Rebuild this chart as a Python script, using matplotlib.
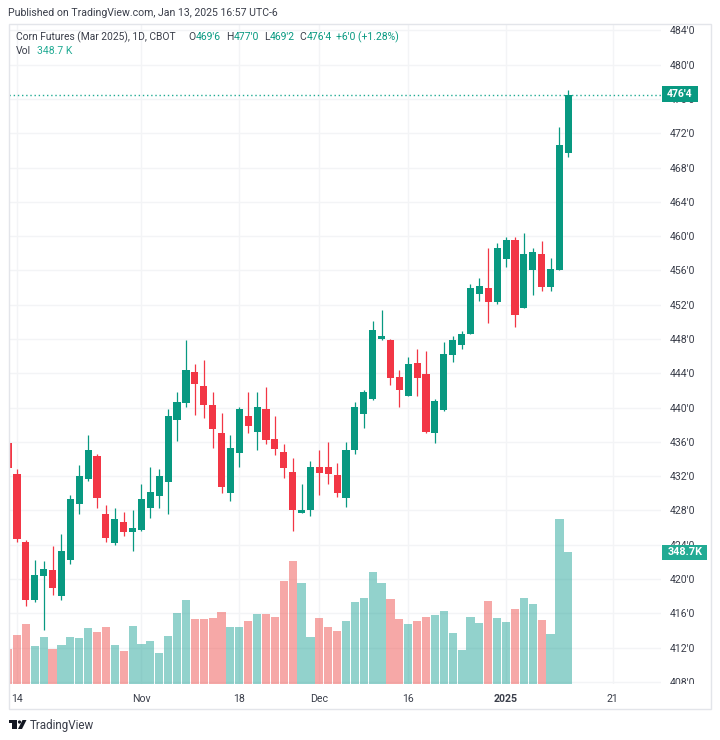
"""Corn futures daily candles with volume, TradingView style."""

import matplotlib
matplotlib.use("Agg")
import matplotlib.pyplot as plt
from matplotlib.patches import Circle, Polygon, Rectangle

W, H = 720, 740
GREEN = "#089981"
RED = "#F23645"
TEAL = "#22AB94"
VOL_GREEN = "#26A69A"
VOL_RED = "#EF5350"
TEXT = "#3A3E4A"
GRID = "#F3F4F6"
FRAME = "#E3E5EA"

plt.rcParams["font.family"] = ["Roboto", "DejaVu Sans"]

# first bar sits at index -1, index 0 is Oct 14
opens = [
    435.9, 432.3, 424.3, 417.5, 420.3, 421.1, 418.0, 422.2, 428.7, 431.7, 434.3, 427.6, 424.2, 426.6, 425.5, 425.75,
    428.25, 429.7, 431.27, 438.55, 440.5, 444.1, 442.55, 440.3, 437.0, 430.0, 434.75, 439.06, 437.2, 439.8, 436.3, 434.85,
    432.5, 427.65, 428.0, 433.1, 433.1, 432.1, 429.5, 435.05, 439.25, 441.0, 447.99, 447.9, 443.6, 441.3, 445.15, 443.9,
    437.0, 439.7, 446.1, 447.3, 448.6, 453.3, 453.9, 452.3, 457.3, 459.6, 451.57, 456.1, 457.9, 454.06, 456.08, 469.75,
]
highs = [
    435.9, 432.8, 424.6, 422.25, 422.1, 423.8, 425.3, 429.8, 433.3, 436.85, 434.6, 428.6, 428.3, 427.8, 428.0, 431.1,
    433.1, 432.8, 439.8, 441.8, 447.9, 445.1, 445.6, 441.8, 439.4, 436.8, 440.1, 441.8, 441.8, 442.4, 439.06, 435.8,
    434.1, 431.1, 433.8, 435.1, 436.0, 433.5, 436.0, 440.6, 442.05, 450.1, 451.4, 448.0, 444.4, 445.85, 446.85, 446.6,
    441.0, 447.6, 448.4, 448.9, 454.4, 455.15, 458.65, 459.2, 459.9, 459.9, 460.4, 458.65, 459.4, 457.4, 472.7, 477.0,
]
lows = [
    433.0, 424.3, 416.8, 417.3, 414.0, 418.1, 417.6, 421.8, 427.6, 431.4, 428.3, 424.3, 424.0, 425.0, 423.3, 425.6,
    427.1, 428.3, 427.6, 436.1, 440.1, 439.1, 438.8, 435.3, 430.0, 429.05, 433.1, 437.0, 435.1, 435.8, 434.5, 431.8,
    425.55, 427.65, 427.3, 429.75, 431.1, 429.6, 428.35, 434.6, 437.6, 440.9, 447.9, 442.6, 440.1, 441.3, 441.4, 437.05,
    435.9, 439.6, 445.3, 446.85, 448.55, 452.4, 449.9, 452.1, 456.4, 449.35, 451.57, 453.1, 453.6, 453.6, 456.0, 469.25,
]
closes = [
    433.0, 424.7, 417.5, 420.5, 421.2, 419.0, 423.3, 429.3, 432.0, 435.1, 429.5, 424.8, 427.0, 425.5, 426.0, 429.3,
    430.1, 432.0, 439.06, 440.6, 444.4, 442.75, 440.26, 437.5, 430.7, 435.3, 439.8, 437.8, 440.07, 436.2, 435.2, 433.0,
    428.0, 428.0, 433.1, 432.4, 432.3, 430.0, 435.1, 440.07, 441.8, 449.07, 448.37, 443.5, 442.0, 445.1, 443.5, 437.2,
    440.8, 446.3, 447.9, 448.6, 453.9, 454.15, 452.3, 458.6, 459.6, 450.75, 457.9, 458.2, 454.06, 456.16, 470.67, 476.5,
]
volumes = [
    91.6, 128.6, 157.6, 100.4, 124.2, 91.6, 102.1, 124.2, 122.4, 147.9, 137.4, 151.5, 103.9, 88.1, 153.2, 105.7,
    113.6, 82.8, 126.8, 186.7, 221.9, 170.8, 170.8, 175.2, 191.1, 151.5, 149.7, 166.4, 184.9, 184.9, 177.0, 272.1,
    324.1, 265.9, 125.0, 174.4, 151.5, 139.1, 166.4, 217.5, 228.1, 295.0, 265.9, 224.6, 172.6, 157.6, 166.4, 177.0,
    182.3, 192.9, 134.7, 88.9, 177.0, 162.0, 218.4, 174.4, 163.8, 199.0, 228.1, 211.3, 168.2, 132.1, 435.9, 348.7,
]
price_ticks = list(range(408, 488, 4))
time_ticks = [0, 14, 25, 34, 44, 55, 67]
time_labels = ["14", "Nov", "18", "Dec", "16", "2025", "21"]
last_close = 476.5
last_volume = 348.7

# pixel layout of the pane, measured on the reference
LEFT, RIGHT, TOP, BOTTOM = 8.5, 661, 23.5, 684
X0_PX, BAR_PX = 17, 8.892
Y408_PX, UNIT_PX = 681.8, 8.57
VOL_PX = 132 / 348.7


def fx(px):
    return px / W


def fy(py):
    return 1 - py / H


def label(px, py, text, color=TEXT, size=7.5, ha="left", weight="normal", zorder=8):
    fig.text(fx(px), fy(py), text, color=color, fontsize=size, ha=ha, va="center", weight=weight, zorder=zorder)


def box(x0, y0, x1, y1, color, zorder=6, **kwargs):
    fig.add_artist(Rectangle((fx(x0), fy(y1)), (x1 - x0) / W, (y1 - y0) / H, transform=fig.transFigure,
                             facecolor=color, edgecolor="none", zorder=zorder, **kwargs))


fig = plt.figure(figsize=(W / 100, H / 100), dpi=100, facecolor="white")
pos = [fx(LEFT), fy(BOTTOM), (RIGHT - LEFT) / W, (BOTTOM - TOP) / H]
ax = fig.add_axes(pos, zorder=1)
ax_vol = fig.add_axes(pos, zorder=2)
ax_vol.patch.set_visible(False)
ax_vol.axis("off")

xs = list(range(-1, len(opens) - 1))
colors = [GREEN if c >= o else RED for o, c in zip(opens, closes)]
vol_colors = [VOL_GREEN if c >= o else VOL_RED for o, c in zip(opens, closes)]
xlim = ((LEFT - X0_PX) / BAR_PX, (RIGHT - X0_PX) / BAR_PX)

ax.vlines(xs, lows, highs, colors=colors, linewidth=0.9, zorder=3)
ax.bar(xs, [abs(c - o) for o, c in zip(opens, closes)], bottom=[min(o, c) for o, c in zip(opens, closes)],
       width=0.8, color=colors, linewidth=0, zorder=4)
ax.axhline(last_close, color=TEAL, linewidth=1, linestyle=(0, (1, 2)), zorder=2)

ax.set_xlim(xlim)
ax.set_ylim(408 + (Y408_PX - BOTTOM) / UNIT_PX, 408 + (Y408_PX - TOP) / UNIT_PX)
ax.set_yticks(price_ticks, [f"{p}'0" for p in price_ticks])
ax.set_xticks(time_ticks, time_labels)
ax.yaxis.tick_right()
ax.tick_params(axis="both", length=0, labelsize=7.6, labelcolor=TEXT)
ax.tick_params(axis="x", pad=7)
ax.tick_params(axis="y", pad=6)
ax.get_xticklabels()[5].set_fontweight("bold")
ax.grid(True, color=GRID, linewidth=1)
ax.set_axisbelow(True)
for spine in ax.spines.values():
    spine.set_visible(False)

ax_vol.bar(xs, volumes, width=0.92, color=vol_colors, alpha=0.5, linewidth=0)
ax_vol.set_xlim(xlim)
ax_vol.set_ylim(0, (BOTTOM - TOP) / VOL_PX)

# outer frame and the clipped bottom of the price scale
box(662, BOTTOM, 710, 708, "white", zorder=5)
fig.add_artist(Rectangle((fx(8.5), fy(709)), 702.5 / W, 685.5 / H, transform=fig.transFigure,
                         facecolor="none", edgecolor=FRAME, linewidth=1, zorder=6))

# last value tags
box(662, 86, 697.5, 101.7, GREEN)
label(680, 93.8, "476'4", color="white", ha="center", size=7.6, weight="bold")
box(662.3, 545, 707, 560, TEAL)
label(685, 552.3, f"{last_volume}K", color="white", ha="center", size=7.8, weight="bold")

# header and legend
label(8, 13, "Published on TradingView.com, Jan 13, 2025 16:57 UTC-6", size=7.6)
label(16, 37, "Corn Futures (Mar 2025), 1D, CBOT", size=7.35)
label(16, 51, "Vol")
label(37, 51, f"{last_volume} K", color=TEAL)
for x_t, x_v, t, v in [(188, 196, "O", "469'6"), (226.5, 234, "H", "477'0"), (264, 269.5, "L", "469'2"), (299, 306.5, "C", "476'4")]:
    label(x_t, 37, t)
    label(x_v, 37, v, color=GREEN)
label(336, 37, "+6'0 (+1.28%)", color=GREEN)

# logo
logo = "#131722"
box(8.5, 720, 17, 723, logo)
box(12, 720, 17, 729, logo)
fig.add_artist(Circle((fx(19.5), fy(722)), 1.6 / W, transform=fig.transFigure, facecolor=logo, edgecolor="none", zorder=6))
fig.add_artist(Polygon([(fx(22.5), fy(720)), (fx(26.5), fy(720)), (fx(22), fy(729)), (fx(18), fy(729))],
                       transform=fig.transFigure, facecolor=logo, edgecolor="none", zorder=6))
label(30, 725, "TradingView", size=8.4)

fig.savefig("out.png", dpi=100)
